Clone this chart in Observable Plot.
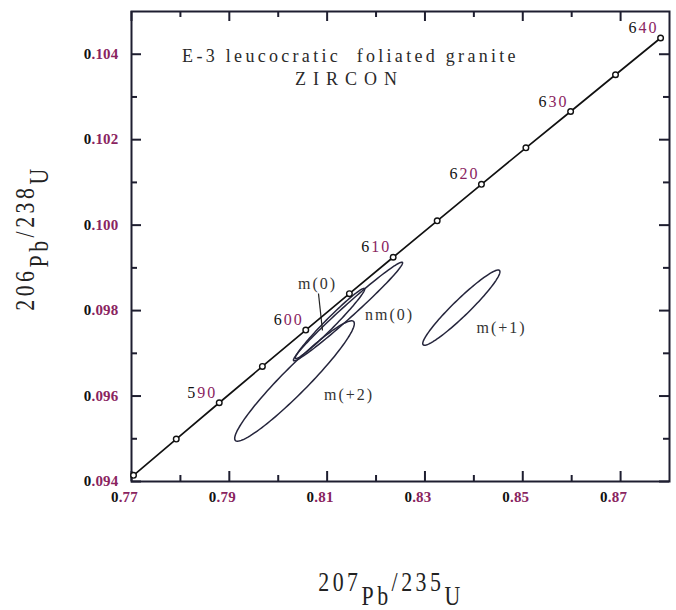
<!DOCTYPE html>
<html><head><meta charset="utf-8">
<script src="https://cdn.jsdelivr.net/npm/d3@7"></script>
<script src="https://cdn.jsdelivr.net/npm/@observablehq/plot@0.6"></script>
<style>body{margin:0;background:#fff}</style>
</head><body><div id="chart"></div>
<script>
// Concordia ages (Ma) and ratios
const ages  = [580, 585, 590, 595, 600, 605, 610, 615, 620, 625, 630, 635, 640];
const concX = [0.77041, 0.77915, 0.78794, 0.79676, 0.80563, 0.81455, 0.82350, 0.83250, 0.84155, 0.85064, 0.85978, 0.86896, 0.87818];
const concY = [0.094144, 0.094993, 0.095843, 0.096693, 0.097544, 0.098396, 0.099248, 0.100101, 0.100956, 0.101809, 0.102660, 0.103520, 0.104380];
const labeledAges = [590, 600, 610, 620, 630, 640];

// Error ellipses: centre, half-extent (2 sigma) and correlation
const ellipseNames = ["m(0)", "nm(0)", "m(+2)", "m(+1)"];
const ellipseX   = [0.81058, 0.81427, 0.80333, 0.83744];
const ellipseSx  = [0.00710, 0.01116, 0.01223, 0.00789];
const ellipseY   = [0.097698, 0.097979, 0.096352, 0.098069];
const ellipseSy  = [0.000822, 0.001154, 0.001409, 0.000880];
const ellipseRho = [0.980, 0.986, 0.953, 0.954];
const labelX = [0.80803, 0.82275, 0.81447, 0.84565];
const labelY = [0.098634, 0.097909, 0.096036, 0.097604];
const leader = [{x1: 0.80823, y1: 0.09840, x2: 0.80905, y2: 0.097534}];

// Axis ticks
const xMajor = [0.77, 0.79, 0.81, 0.83, 0.85, 0.87];
const xMinor = [0.78, 0.80, 0.82, 0.84, 0.86];
const yMajor = [0.094, 0.096, 0.098, 0.100, 0.102, 0.104];
const yMinor = [0.095, 0.097, 0.099, 0.101, 0.103];

const titleLines = ["E-3 leucocratic  foliated granite", "ZIRCON"];

const conc = ages.map((a, i) => ({age: a, x: concX[i], y: concY[i]}));
const ageLabels = conc.filter(d => labeledAges.includes(d.age));

const ellipsePts = [];
ellipseNames.forEach((n, k) => {
  const r = ellipseRho[k], q = Math.sqrt(1 - r * r);
  for (let j = 0; j <= 120; j++) {
    const t = 2 * Math.PI * j / 120;
    ellipsePts.push({name: n,
      x: ellipseX[k] + ellipseSx[k] * Math.cos(t),
      y: ellipseY[k] + ellipseSy[k] * (r * Math.cos(t) + q * Math.sin(t))});
  }
});
const ellLabels = ellipseNames.map((n, i) => ({name: n, x: labelX[i], y: labelY[i]}));

const W = 676, H = 610, mL = 131, mR = 7, mT = 11, mB = 129;
const iW = W - mL - mR, iH = H - mT - mB;
const ink = "#1e1e30";

const svg = Plot.plot({
  width: W, height: H,
  marginLeft: mL, marginRight: mR, marginTop: mT, marginBottom: mB,
  style: {fontFamily: "Liberation Serif", background: "#fff"},
  x: {domain: [0.77, 0.88]},
  y: {domain: [0.094, 0.105]},
  marks: [
    Plot.tickX(xMajor, {x: d => d, insetTop: iH - 10, stroke: ink, strokeWidth: 2}),
    Plot.tickX(xMinor, {x: d => d, insetTop: iH - 6, stroke: ink, strokeWidth: 2}),
    Plot.tickX(xMajor, {x: d => d, insetBottom: iH - 10, stroke: ink, strokeWidth: 2}),
    Plot.tickX(xMinor, {x: d => d, insetBottom: iH - 6, stroke: ink, strokeWidth: 2}),
    Plot.tickY(yMajor, {y: d => d, insetRight: iW - 10, stroke: ink, strokeWidth: 2}),
    Plot.tickY(yMinor, {y: d => d, insetRight: iW - 6, stroke: ink, strokeWidth: 2}),
    Plot.tickY(yMajor, {y: d => d, insetLeft: iW - 10, stroke: ink, strokeWidth: 2}),
    Plot.tickY(yMinor, {y: d => d, insetLeft: iW - 6, stroke: ink, strokeWidth: 2}),
    Plot.frame({stroke: ink, strokeWidth: 2}),
    Plot.axisX({ticks: xMajor, tickFormat: d => d.toFixed(2), tickSize: 0, tickPadding: 10, dx: -7, fontSize: 15, fontWeight: "bold", label: null}),
    Plot.axisY({ticks: yMajor, tickFormat: d => d.toFixed(3), tickSize: 0, tickPadding: 13, fontSize: 15, fontWeight: "bold", label: null}),
    Plot.line(ellipsePts, {x: "x", y: "y", z: "name", stroke: "#25253c", strokeWidth: 1.5}),
    Plot.link(leader, {x1: "x1", y1: "y1", x2: "x2", y2: "y2", stroke: "#222", strokeWidth: 1.2}),
    Plot.line(conc, {x: "x", y: "y", stroke: "#111", strokeWidth: 1.7}),
    Plot.dot(conc, {x: "x", y: "y", r: 2.8, fill: "#fff", stroke: "#111", strokeWidth: 1.4}),
    Plot.text(ageLabels, {x: "x", y: "y", text: d => String(d.age), textAnchor: "end", lineAnchor: "middle", dx: -2, dy: -10, fontSize: 16, fill: "#222"}),
    Plot.text(ellLabels, {x: "x", y: "y", text: "name", textAnchor: "middle", lineAnchor: "middle", fontSize: 16, fill: "#333"}),
    Plot.text([titleLines[0]], {frameAnchor: "top-left", dx: 219, dy: 45, textAnchor: "middle", lineAnchor: "middle", fontSize: 18, fill: "#2a2a2a"}),
    Plot.text([titleLines[1]], {frameAnchor: "top-left", dx: 218, dy: 68, textAnchor: "middle", lineAnchor: "middle", fontSize: 18, fill: "#2a2a2a"})
  ]
});

const purple = "#8a245f";
d3.select(svg).selectAll("text").each(function() {
  const el = d3.select(this);
  const s = this.textContent;
  if (s === titleLines[0]) el.style("letter-spacing", "3.3px");
  else if (s === titleLines[1]) el.style("letter-spacing", "7px");
  else if (/^m|^nm/.test(s)) el.style("letter-spacing", "2px");
  else if (/^[0-9]/.test(s)) {
    const isTick = s.includes(".");
    el.style("letter-spacing", isTick ? "0.2px" : "2px");
    el.text(null);
    el.append("tspan").attr("fill", "#111").text(s[0]);
    el.append("tspan").attr("fill", purple).text(s.slice(1));
  }
});

function sciLabel(sel, a, b, c, d, shift) {
  sel.append("tspan").text(a);
  sel.append("tspan").attr("dy", shift).text(b);
  sel.append("tspan").attr("dy", -shift).text(c);
  sel.append("tspan").attr("dy", shift).text(d);
}
const root = d3.select(svg);
const yl = root.append("text")
  .attr("transform", "translate(34,238) rotate(-90) scale(0.78,1)")
  .attr("text-anchor", "middle").attr("font-size", 28).attr("fill", "#222")
  .style("letter-spacing", "4.5px");
sciLabel(yl, "206", "Pb", "/238", "U", 14);
const xl = root.append("text")
  .attr("transform", "translate(391,591) scale(0.78,1)")
  .attr("text-anchor", "middle").attr("font-size", 28).attr("fill", "#222")
  .style("letter-spacing", "4.5px");
sciLabel(xl, "207", "Pb", "/235", "U", 14);

document.getElementById("chart").appendChild(svg);
</script>
</body></html>
